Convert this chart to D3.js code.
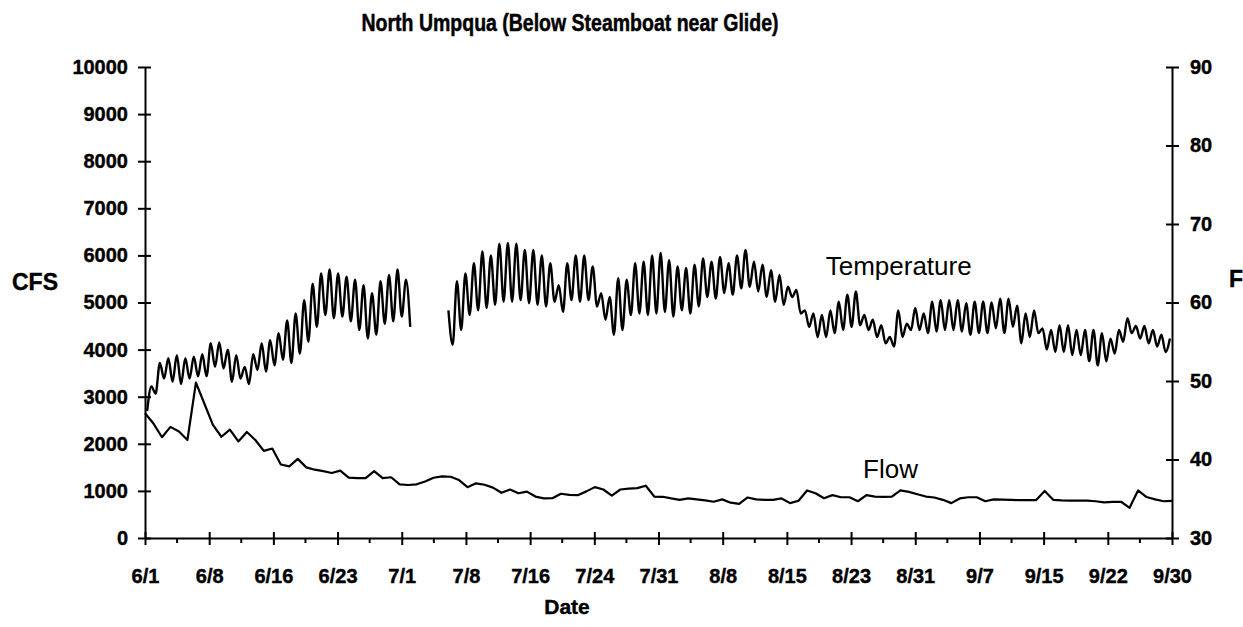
<!DOCTYPE html>
<html>
<head>
<meta charset="utf-8">
<script src="https://cdn.jsdelivr.net/npm/d3@7"></script>
<style>
  body { margin: 0; background: #fff; }
  svg { display: block; font-family: "Liberation Sans", Arial, sans-serif; }
  .axis path, .axis line { stroke: #000; stroke-width: 2; }
  .axis text { font-size: 20px; font-weight: bold; fill: #000; stroke: #000; stroke-width: 0.4; }
  .label { font-weight: bold; fill: #000; stroke: #000; stroke-width: 0.4; }
</style>
</head>
<body>
<script>
// tick labels
const dateLabels = ["6/1", "6/8", "6/16", "6/23", "7/1", "7/8", "7/16", "7/24", "7/31",
    "8/8", "8/15", "8/23", "8/31", "9/7", "9/15", "9/22", "9/30"];
const cfsTicks = [0, 1000, 2000, 3000, 4000, 5000, 6000, 7000, 8000, 9000, 10000];
const tempTicks = [30, 40, 50, 60, 70, 80, 90];

// daily flow (CFS), 6/1 .. 9/30
const flow = [
    2650, 2430, 2140, 2360, 2260, 2080, 3300, 2850, 2400, 2150,
    2300, 2050, 2250, 2080, 1850, 1900, 1560, 1520, 1680, 1500,
    1450, 1420, 1380, 1430, 1280, 1270, 1270, 1420, 1270, 1290,
    1140, 1125, 1140, 1200, 1280, 1310, 1300, 1230, 1080, 1160,
    1130, 1070, 960, 1030, 950, 985, 880, 840, 845, 940,
    915, 910, 990, 1080, 1030, 900, 1030, 1050, 1060, 1110,
    880, 875, 840, 810, 840, 820, 800, 770, 820, 750,
    725, 860, 820, 810, 810, 840, 740, 790, 1010, 950,
    845, 910, 865, 865, 780, 910, 880, 875, 880, 1010,
    980, 930, 880, 860, 810, 740, 840, 865, 865, 780,
    820, 815, 810, 805, 805, 805, 1000, 810, 800, 795,
    795, 795, 780, 755, 765, 770, 640, 1010, 870, 820,
    780, 790
];

// daily water temperature (F): morning low and afternoon high, gap = no record
const tempMin = [
    46.2, 48.4, 50.3, 49.9, 49.6, 50.3, 50.6, 50.6, 51.8, 51.6,
    49.9, 50.3, 49.6, 51.4, 51.2, 52.0, 52.7, 52.3, 53.5, 55.0,
    56.9, 58.4, 58.0, 58.2, 57.6, 56.5, 55.4, 55.9, 57.3, 57.6,
    58.2, 56.9, null, null, null, null, 54.6, 56.5, 58.4, 59.0,
    59.3, 59.7, 60.1, 60.1, 60.3, 59.9, 59.7, 59.5, 60.1, 58.8,
    60.3, 60.1, 60.3, 59.5, 57.8, 55.9, 56.5, 58.4, 58.6, 58.4,
    58.6, 58.8, 58.2, 59.0, 58.6, 59.5, 60.7, 60.5, 61.2, 61.0,
    61.8, 62.0, 61.4, 60.7, 60.1, 59.7, 60.7, 58.6, 56.9, 55.6,
    55.6, 56.1, 56.5, 56.9, 57.1, 56.5, 55.6, 54.8, 54.4, 55.6,
    56.5, 56.5, 56.1, 56.3, 56.5, 56.5, 56.3, 55.9, 56.1, 56.1,
    56.7, 56.1, 56.9, 54.8, 55.6, 56.1, 54.0, 53.7, 53.7, 53.3,
    53.3, 52.5, 52.0, 52.5, 53.5, 55.0, 56.1, 55.4, 54.8, 54.4,
    53.7
];
const tempMax = [
    49.3, 52.3, 52.9, 53.3, 52.9, 53.1, 53.4, 54.8, 54.9, 54.0,
    53.3, 51.8, 53.4, 54.8, 55.2, 56.1, 57.7, 58.6, 60.3, 62.4,
    63.7, 64.2, 63.7, 63.3, 62.9, 62.2, 61.2, 62.7, 63.5, 64.2,
    62.9, null, null, null, null, 59.0, 62.7, 63.7, 65.0, 66.5,
    66.0, 67.5, 67.6, 67.5, 66.7, 66.7, 66.0, 65.0, 62.2, 65.0,
    66.0, 66.0, 64.6, 61.2, 60.7, 63.1, 62.9, 65.0, 65.2, 66.0,
    66.3, 65.4, 64.6, 64.4, 64.8, 65.6, 65.2, 65.8, 65.0, 66.0,
    66.7, 65.2, 64.8, 64.1, 63.5, 62.0, 61.6, 59.0, 58.6, 58.4,
    59.0, 60.1, 61.0, 61.4, 58.4, 57.8, 57.1, 55.6, 59.0, 57.3,
    59.3, 58.6, 60.1, 60.3, 60.3, 60.3, 59.9, 60.1, 60.1, 60.0,
    60.5, 60.5, 59.6, 58.6, 59.0, 56.7, 56.5, 57.1, 57.1, 56.5,
    56.5, 56.5, 56.1, 55.4, 56.5, 58.0, 57.0, 57.0, 56.5, 55.9,
    55.4
];

const margin = { top: 67, right: 71, bottom: 89, left: 145 };
const width = 1243 - margin.left - margin.right;
const height = 627 - margin.top - margin.bottom;

const root = d3.select("body")
    .append("svg")
    .attr("width", width + margin.left + margin.right)
    .attr("height", height + margin.top + margin.bottom);

const svg = root.append("g")
    .attr("transform", `translate(${margin.left},${margin.top})`);

// scales
const nDays = flow.length - 1;
const x = d3.scaleLinear().domain([0, nDays]).range([0, width]);
const yFlow = d3.scaleLinear().domain([0, 10000]).range([height, 0]);
const yTemp = d3.scaleLinear().domain([30, 90]).range([height, 0]);

// date ticks are evenly spaced over the season
const step = nDays / (dateLabels.length - 1);
const majorTicks = dateLabels.map((d, i) => i * step);
const minorTicks = dateLabels.slice(1).map((d, i) => (i + 0.5) * step);

// axes
const gx = svg.append("g")
    .attr("class", "axis axis--x")
    .attr("transform", `translate(0,${height})`)
    .call(d3.axisBottom(x).tickValues(majorTicks).tickSize(7).tickSizeOuter(0).tickPadding(24)
        .tickFormat((d, i) => dateLabels[i]));
gx.selectAll(".tick line").attr("y1", -6);
gx.selectAll(".minor")
    .data(minorTicks)
    .enter().append("line")
    .attr("class", "minor")
    .attr("x1", d => x(d)).attr("x2", d => x(d))
    .attr("y1", 0).attr("y2", 5);

const gy = svg.append("g")
    .attr("class", "axis axis--y")
    .call(d3.axisLeft(yFlow).tickValues(cfsTicks).tickSize(7).tickSizeOuter(0).tickPadding(10)
        .tickFormat(d3.format("d")));
gy.selectAll(".tick line").attr("x1", 6);

const gy2 = svg.append("g")
    .attr("class", "axis axis--y2")
    .attr("transform", `translate(${width},0)`)
    .call(d3.axisRight(yTemp).tickValues(tempTicks).tickSize(7).tickSizeOuter(0).tickPadding(11));
gy2.selectAll(".tick line").attr("x1", -6);

// series
const flowLine = d3.line()
    .x((d, i) => x(i))
    .y(d => yFlow(d));

svg.append("path")
    .datum(flow)
    .attr("fill", "none")
    .attr("stroke", "#000")
    .attr("stroke-width", 2.2)
    .attr("stroke-linejoin", "round")
    .attr("d", flowLine);

// low in the early morning, high in the late afternoon
const tempPoints = [];
tempMin.forEach((v, i) => {
    tempPoints.push({ t: i + 0.25, v: v });
    tempPoints.push({ t: i + 0.75, v: tempMax[i] });
});

const tempLine = d3.line()
    .defined(d => d.v != null)
    .x(d => x(d.t))
    .y(d => yTemp(d.v))
    .curve(d3.curveMonotoneX);

svg.append("path")
    .datum(tempPoints)
    .attr("fill", "none")
    .attr("stroke", "#000")
    .attr("stroke-width", 2.4)
    .attr("stroke-linejoin", "round")
    .attr("d", tempLine);

// labels
root.append("text")
    .attr("class", "label")
    .attr("transform", "translate(570,31) scale(1,1.25)")
    .attr("text-anchor", "middle")
    .style("font-size", "19.5px")
    .text("North Umpqua (Below Steamboat near Glide)");

root.append("text")
    .attr("class", "label")
    .attr("x", 12).attr("y", 290)
    .style("font-size", "23px")
    .text("CFS");

root.append("text")
    .attr("class", "label")
    .attr("x", 1229).attr("y", 287)
    .style("font-size", "23px")
    .text("F");

root.append("text")
    .attr("class", "label")
    .attr("x", 567).attr("y", 614)
    .attr("text-anchor", "middle")
    .style("font-size", "21px")
    .text("Date");

svg.append("text")
    .attr("x", x(80.2)).attr("y", yTemp(63.5))
    .style("font-size", "26px")
    .text("Temperature");

svg.append("text")
    .attr("x", x(84.6)).attr("y", yFlow(1274))
    .style("font-size", "26px")
    .text("Flow");
</script>
</body>
</html>
